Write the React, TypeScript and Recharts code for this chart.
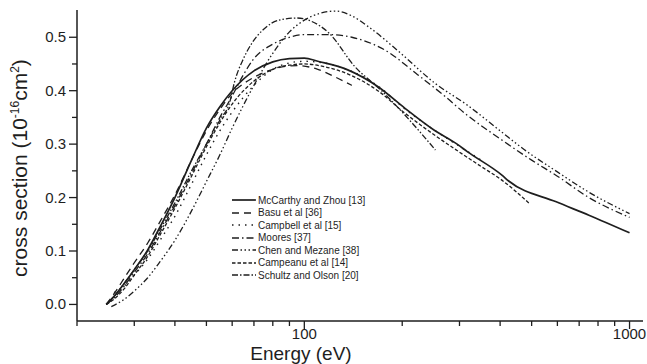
import { Legend, Line, LineChart, XAxis, YAxis, Label } from 'recharts';

// energies (eV) and cross sections (1e-16 cm^2) per data set
const mccarthyE = [24.6, 26, 28, 30, 33, 36, 40, 45, 50, 55, 60, 70, 80, 90, 100, 110, 136, 169, 204, 251, 295, 317, 405, 425, 595, 750, 1000];
const mccarthyV = [0, 0.015, 0.04, 0.065, 0.102, 0.145, 0.2, 0.27, 0.33, 0.37, 0.4, 0.437, 0.454, 0.46, 0.461, 0.455, 0.439, 0.407, 0.367, 0.326, 0.3, 0.286, 0.242, 0.231, 0.192, 0.167, 0.134];

const basuE = [24.6, 26, 28, 30, 33, 36, 40, 45, 50, 55, 60, 70, 80, 95, 110, 125, 140];
const basuV = [0, 0.02, 0.05, 0.078, 0.115, 0.155, 0.205, 0.27, 0.325, 0.365, 0.395, 0.425, 0.44, 0.447, 0.44, 0.425, 0.41];

const campbellE = [26, 28, 30, 33, 36, 40, 45, 50, 55, 60, 70, 80, 90, 100, 115, 135, 170, 200, 250, 300, 350];
const campbellV = [0.022, 0.035, 0.055, 0.085, 0.12, 0.165, 0.225, 0.28, 0.325, 0.36, 0.41, 0.44, 0.452, 0.455, 0.452, 0.44, 0.407, 0.37, 0.327, 0.296, 0.27];

const mooresE = [24.6, 26, 28, 30, 33, 36, 40, 45, 50, 55, 60, 65, 70, 80, 90, 100, 120, 140, 177, 223, 270, 317, 400, 500, 600, 750, 1000];
const mooresV = [0, 0.012, 0.035, 0.06, 0.095, 0.135, 0.185, 0.245, 0.3, 0.35, 0.39, 0.43, 0.46, 0.487, 0.5, 0.505, 0.505, 0.5, 0.476, 0.43, 0.39, 0.354, 0.31, 0.27, 0.24, 0.2, 0.163];

const chenE = [25.5, 28, 30, 33, 36, 40, 45, 50, 55, 60, 70, 80, 90, 100, 112, 125, 140, 158, 198, 252, 317, 400, 474, 600, 750, 1000];
const chenV = [-0.004, 0.01, 0.025, 0.05, 0.08, 0.12, 0.175, 0.23, 0.28, 0.33, 0.41, 0.47, 0.51, 0.532, 0.545, 0.549, 0.54, 0.519, 0.47, 0.414, 0.373, 0.325, 0.29, 0.248, 0.21, 0.17];

const campeanuE = [24.6, 26, 28, 30, 33, 36, 40, 45, 50, 55, 60, 70, 80, 90, 100, 115, 140, 170, 200, 250, 300, 350, 400, 490];
const campeanuV = [0, 0.01, 0.03, 0.055, 0.09, 0.13, 0.18, 0.24, 0.295, 0.34, 0.375, 0.418, 0.44, 0.448, 0.45, 0.445, 0.428, 0.398, 0.362, 0.318, 0.285, 0.258, 0.235, 0.19];

const schultzE = [24.6, 26, 28, 30, 33, 36, 40, 45, 50, 55, 59, 61, 65, 68.5, 75, 83.5, 95, 105, 119, 143, 172, 200, 253];
const schultzV = [0, 0.015, 0.04, 0.065, 0.1, 0.14, 0.19, 0.25, 0.3, 0.345, 0.379, 0.416, 0.46, 0.486, 0.515, 0.532, 0.536, 0.53, 0.508, 0.445, 0.401, 0.36, 0.289];

const xTicks = [20, 30, 40, 50, 60, 70, 80, 90, 100, 200, 300, 400, 500, 600, 700, 800, 900, 1000];
const yTicks = [0, 0.05, 0.1, 0.15, 0.2, 0.25, 0.3, 0.35, 0.4, 0.45, 0.5];

const zip = (es: number[], vs: number[]) => es.map((e, i) => ({ e, v: vs[i] }));

const series = [
  { name: 'McCarthy and Zhou [13]', data: zip(mccarthyE, mccarthyV), dash: undefined, width: 1.7 },
  { name: 'Basu et al [36]', data: zip(basuE, basuV), dash: '7 5', width: 1.3 },
  { name: 'Campbell et al [15]', data: zip(campbellE, campbellV), dash: '1.5 5', width: 1.4 },
  { name: 'Moores [37]', data: zip(mooresE, mooresV), dash: '7 3 1.5 3', width: 1.3 },
  { name: 'Chen and Mezane [38]', data: zip(chenE, chenV), dash: '6 2.5 1.5 2.5 1.5 2.5 1.5 2.5', width: 1.3 },
  { name: 'Campeanu et al [14]', data: zip(campeanuE, campeanuV), dash: '3.5 2', width: 1.3 },
  { name: 'Schultz and Olson [20]', data: zip(schultzE, schultzV), dash: '6 2 1.5 2 6 2 1.5 2 1.5 2', width: 1.3 },
];

const FONT = '"Liberation Sans", Arial, sans-serif';
const INK = '#1e1e1e';

const XTick = (props: any) => {
  const { x, y, payload } = props;
  const major = payload.value === 100 || payload.value === 1000;
  return (
    <g>
      <line x1={x} x2={x} y1={y} y2={y + (major ? 8 : 5)} stroke={INK} strokeWidth={1.3} />
      {major && (
        <text x={x} y={y + 18} textAnchor="middle" fontSize={15} fontFamily={FONT} fill={INK}>
          {payload.value}
        </text>
      )}
    </g>
  );
};

const YTick = (props: any) => {
  const { x, y, payload } = props;
  const major = Math.round(payload.value * 100) % 10 === 0;
  return (
    <g>
      <line x1={x} x2={x - (major ? 8 : 5)} y1={y} y2={y} stroke={INK} strokeWidth={1.3} />
      {major && (
        <text x={x - 11} y={y + 5} textAnchor="end" fontSize={15} fontFamily={FONT} fill={INK}>
          {payload.value.toFixed(1)}
        </text>
      )}
    </g>
  );
};

const renderLegend = () => (
  <div style={{ fontFamily: FONT, fontSize: 10, color: INK }}>
    {series.map((s) => (
      <div key={s.name} style={{ display: 'flex', alignItems: 'center', height: 12.5 }}>
        <svg width={24} height={6}>
          <line x1={0} x2={24} y1={3} y2={3} stroke={INK} strokeWidth={s.width} strokeDasharray={s.dash} />
        </svg>
        <span style={{ marginLeft: 2, whiteSpace: 'nowrap' }}>{s.name}</span>
      </div>
    ))}
  </div>
);

const App = (): React.ReactElement => (
  <div style={{ position: 'absolute', left: 0, top: 0, background: '#fff' }}>
    <LineChart width={647} height={364} margin={{ top: 10, right: 4, bottom: 0, left: 0 }}>
      <XAxis
        dataKey="e"
        type="number"
        scale="log"
        domain={[20, 1100]}
        allowDataOverflow
        ticks={xTicks}
        interval={0}
        tickSize={0}
        tickMargin={0}
        tick={(p: any) => <XTick {...p} />}
        height={43}
        axisLine={{ stroke: INK, strokeWidth: 1.5 }}
      >
        <Label
          content={() => (
            <text x={301} y={360} textAnchor="middle" fontSize={19} fontFamily={FONT} fill={INK}>
              Energy (eV)
            </text>
          )}
        />
      </XAxis>
      <XAxis xAxisId="top" orientation="top" type="number" domain={[0, 1]} height={0} tick={false} tickLine={false} axisLine={{ stroke: INK, strokeWidth: 1.5 }} />
      <YAxis
        type="number"
        domain={[-0.031, 0.551]}
        allowDataOverflow
        ticks={yTicks}
        interval={0}
        tickSize={0}
        tickMargin={0}
        tick={(p: any) => <YTick {...p} />}
        width={77}
        axisLine={{ stroke: INK, strokeWidth: 1.5 }}
      >
        <Label
          content={() => (
            <text transform="translate(27,168) rotate(-90)" textAnchor="middle" fontSize={21} fontFamily={FONT} fill={INK}>
              cross section (10
              <tspan dy={-8} fontSize={12}>-16</tspan>
              <tspan dy={8}>cm</tspan>
              <tspan dy={-8} fontSize={12}>2</tspan>
              <tspan dy={8}>)</tspan>
            </text>
          )}
        />
      </YAxis>
      <YAxis yAxisId="right" orientation="right" type="number" domain={[0, 1]} width={0} tick={false} tickLine={false} axisLine={{ stroke: INK, strokeWidth: 1.5 }} />
      <Legend
        layout="vertical"
        align="center"
        verticalAlign="middle"
        content={renderLegend}
        wrapperStyle={{ left: 232, top: 194, width: 180 }}
      />
      {series.map((s) => (
        <Line
          key={s.name}
          data={s.data}
          dataKey="v"
          name={s.name}
          type="monotone"
          stroke={INK}
          strokeWidth={s.width}
          strokeDasharray={s.dash}
          dot={false}
          isAnimationActive={false}
        />
      ))}
    </LineChart>
  </div>
);

export default App;
